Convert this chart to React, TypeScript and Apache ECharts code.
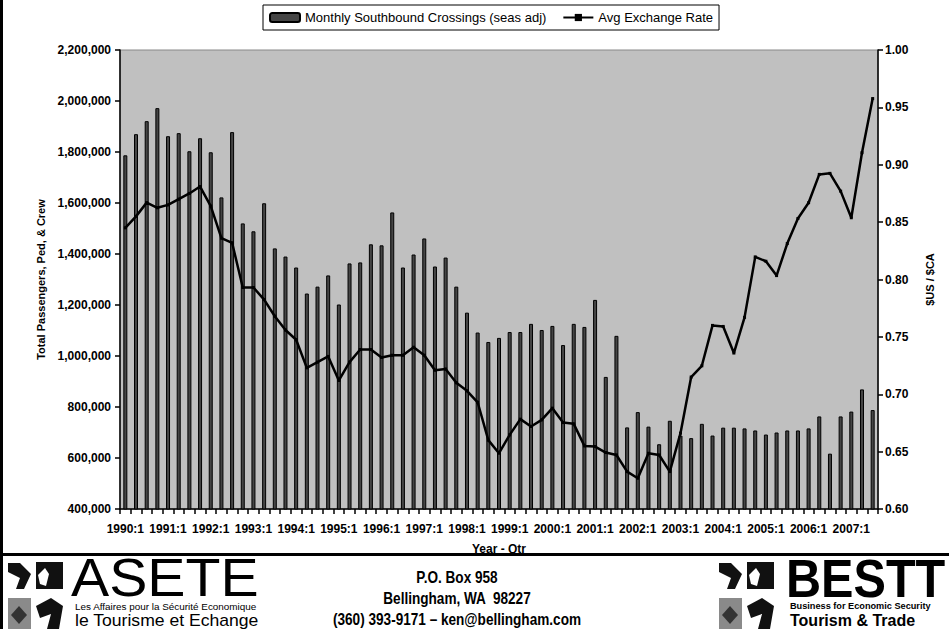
import React, { useEffect, useRef } from "react";
import * as echarts from "echarts";

const FONT = "'Liberation Sans', Arial, sans-serif";

const years = [1990, 1991, 1992, 1993, 1994, 1995, 1996, 1997, 1998, 1999, 2000, 2001, 2002, 2003, 2004, 2005, 2006, 2007];
const quarters = [1, 2, 3, 4];
const categoryCount = 71;
const categories: string[] = [];
for (const y of years) for (const q of quarters) if (categories.length < categoryCount) categories.push(`${y}:${q}`);

const seriesNames = ["Monthly Southbound Crossings (seas adj)", "Avg Exchange Rate"];

const crossings = [
  1787000, 1870000, 1921000, 1972000,
  1862000, 1874000, 1803000, 1854000,
  1799000, 1622000, 1878000, 1520000,
  1489000, 1599000, 1422000, 1390000,
  1347000, 1245000, 1272000, 1316000,
  1202000, 1363000, 1367000, 1438000,
  1434000, 1563000, 1347000, 1398000,
  1461000, 1351000, 1386000, 1272000,
  1170000, 1092000, 1055000, 1071000,
  1094000, 1094000, 1126000, 1102000,
  1118000, 1043000, 1126000, 1114000,
  1220000, 918000, 1079000, 720000,
  780000, 723000, 654000, 746000,
  688000, 678000, 734000, 688000,
  719000, 719000, 716000, 708000,
  692000, 700000, 708000, 708000,
  716000, 763000, 617000, 763000,
  782000, 869000, 788000,
];

const exchangeRate = [
  0.845, 0.855, 0.867, 0.8625,
  0.865, 0.870, 0.875, 0.881,
  0.864, 0.836, 0.832, 0.793,
  0.793, 0.7825, 0.768, 0.756,
  0.7475, 0.723, 0.728, 0.733,
  0.712, 0.728, 0.739, 0.739,
  0.732, 0.734, 0.734, 0.741,
  0.734, 0.721, 0.722, 0.710,
  0.703, 0.693, 0.660, 0.6486,
  0.6646, 0.6783, 0.6719, 0.6777,
  0.6879, 0.6753, 0.6742, 0.655,
  0.6544, 0.6492, 0.6471, 0.6326,
  0.6268, 0.6486, 0.6471, 0.6326,
  0.6661, 0.715, 0.7248, 0.760,
  0.7591, 0.7359, 0.767, 0.8197,
  0.8159, 0.8034, 0.8313, 0.8532,
  0.8669, 0.8916, 0.8925, 0.877,
  0.8538, 0.9105, 0.9577,
];

const addressLines = ["P.O. Box 958", "Bellingham, WA  98227", "(360) 393-9171 \u2013 ken@bellingham.com"];

function logoIcons(ox: number): any[] {
  return [
    { type: "polygon", shape: { points: [[ox + 1, 563], [ox + 13, 563], [ox + 24, 574], [ox + 17, 589], [ox + 9, 589], [ox + 13, 578], [ox + 1, 572]] }, style: { fill: "#111" } },
    { type: "rect", shape: { x: ox + 29, y: 562, width: 27, height: 27 }, style: { fill: "#111" } },
    { type: "polygon", shape: { points: [[ox + 31, 575], [ox + 38, 568], [ox + 42, 574], [ox + 39, 586], [ox + 33, 584]] }, style: { fill: "#fff" } },
    { type: "rect", shape: { x: ox + 1, y: 598, width: 23, height: 31 }, style: { fill: "#8a8a8a" } },
    { type: "polygon", shape: { points: [[ox + 4, 615], [ox + 12, 606], [ox + 20, 615], [ox + 12, 624]] }, style: { fill: "#333" } },
    { type: "polygon", shape: { points: [[ox + 29, 606], [ox + 44, 598], [ox + 56, 606], [ox + 52, 629], [ox + 40, 629], [ox + 44, 614], [ox + 33, 618]] }, style: { fill: "#111" } },
  ];
}

export default function App() {
  const ref = useRef<HTMLDivElement>(null);
  useEffect(() => {
    document.body.style.margin = "0";
    const chart = echarts.init(ref.current!, undefined, { renderer: "svg" });
    const axisLine = { show: true, lineStyle: { color: "#000", width: 1.5 } };
    const axisTick = { show: true, length: 5, lineStyle: { color: "#000", width: 1.5 } };
    const labelStyle = { fontSize: 12, fontWeight: "bold" as const, color: "#000", fontFamily: FONT };
    chart.setOption({
      animation: false,
      backgroundColor: "#fff",
      textStyle: { fontFamily: FONT },
      legend: {
        top: 5,
        left: 263,
        data: seriesNames,
        borderColor: "#000",
        borderWidth: 1,
        borderRadius: 0,
        padding: [6, 6, 6, 6],
        itemGap: 16,
        itemWidth: 30,
        itemHeight: 9,
        textStyle: { fontSize: 13, color: "#000", fontFamily: FONT },
      },
      grid: { left: 120, right: 71, top: 50, bottom: 120, show: true, backgroundColor: "#c0c0c0", borderColor: "#888", borderWidth: 1 },
      xAxis: {
        type: "category",
        data: categories,
        boundaryGap: true,
        axisLine,
        axisTick: { ...axisTick, interval: 0, alignWithLabel: false },
        axisLabel: { ...labelStyle, interval: 3, margin: 14 },
        splitLine: { show: false },
        name: "Year - Qtr",
        nameLocation: "middle",
        nameGap: 34,
        nameTextStyle: labelStyle,
      },
      yAxis: [
        {
          type: "value",
          position: "left",
          min: 400000,
          max: 2200000,
          interval: 200000,
          axisLine,
          axisTick,
          splitLine: { show: false },
          axisLabel: { ...labelStyle, margin: 9, formatter: (v: number) => v.toLocaleString("en-US") },
          name: "Total Passengers, Ped, & Crew",
          nameLocation: "middle",
          nameGap: 72,
          nameTextStyle: { ...labelStyle, fontSize: 11 },
        },
        {
          type: "value",
          position: "right",
          min: 0.6,
          max: 1.0,
          interval: 0.05,
          axisLine,
          axisTick,
          splitLine: { show: false },
          axisLabel: { ...labelStyle, margin: 7, formatter: (v: number) => v.toFixed(2) },
          name: "$US / $CA",
          nameLocation: "middle",
          nameRotate: 90,
          nameGap: 46,
          nameTextStyle: { ...labelStyle, fontSize: 11 },
        },
      ],
      series: [
        {
          type: "bar",
          name: seriesNames[0],
          data: crossings,
          barWidth: 4,
          itemStyle: { color: "#454545", borderColor: "#000", borderWidth: 1 },
        },
        {
          type: "line",
          name: seriesNames[1],
          yAxisIndex: 1,
          data: exchangeRate,
          symbol: "rect",
          symbolSize: 3,
          showSymbol: true,
          lineStyle: { color: "#000", width: 2.5 },
          itemStyle: { color: "#000" },
        },
      ],
      graphic: [
        { type: "rect", shape: { x: 0, y: 0, width: 3, height: 629 }, style: { fill: "#000" } },
        { type: "rect", shape: { x: 0, y: 553, width: 949, height: 3 }, style: { fill: "#000" } },
        ...logoIcons(7),
        { type: "text", x: 71, y: 578, scaleX: 1.06, style: { text: "ASETE", fontSize: 54, lineHeight: 40, fontFamily: FONT, fill: "#000", align: "left", verticalAlign: "middle" } },
        { type: "text", x: 75, y: 606.5, scaleX: 1.1, style: { text: "Les Affaires pour la S\u00e9curit\u00e9 Economique", fontSize: 9, lineHeight: 9, fontFamily: FONT, fill: "#000", align: "left", verticalAlign: "middle" } },
        { type: "text", x: 75, y: 620.5, scaleX: 1.1, style: { text: "le Tourisme et Echange", fontSize: 16, lineHeight: 16, fontFamily: FONT, fill: "#000", align: "left", verticalAlign: "middle" } },
        ...addressLines.map((t, i) => ({
          type: "text",
          x: 457,
          y: 578 + i * 21,
          scaleX: 0.85,
          style: { text: t, fontSize: 16, fontWeight: "bold", fontFamily: FONT, fill: "#000", align: "center", verticalAlign: "middle" },
        })),
        ...logoIcons(718),
        { type: "text", x: 786, y: 578, scaleX: 0.9, style: { text: "BESTT", fontSize: 54, lineHeight: 40, fontWeight: "bold", fontFamily: FONT, fill: "#000", align: "left", verticalAlign: "middle" } },
        { type: "text", x: 790, y: 606.5, scaleX: 1.02, style: { text: "Business for Economic Security", fontSize: 9, lineHeight: 9, fontWeight: "bold", fontFamily: FONT, fill: "#000", align: "left", verticalAlign: "middle" } },
        { type: "text", x: 790, y: 620.5, scaleX: 1.0, style: { text: "Tourism & Trade", fontSize: 16, lineHeight: 16, fontWeight: "bold", fontFamily: FONT, fill: "#000", align: "left", verticalAlign: "middle" } },
      ],
    });
    return () => chart.dispose();
  }, []);
  return <div ref={ref} style={{ width: 949, height: 629 }} />;
}
